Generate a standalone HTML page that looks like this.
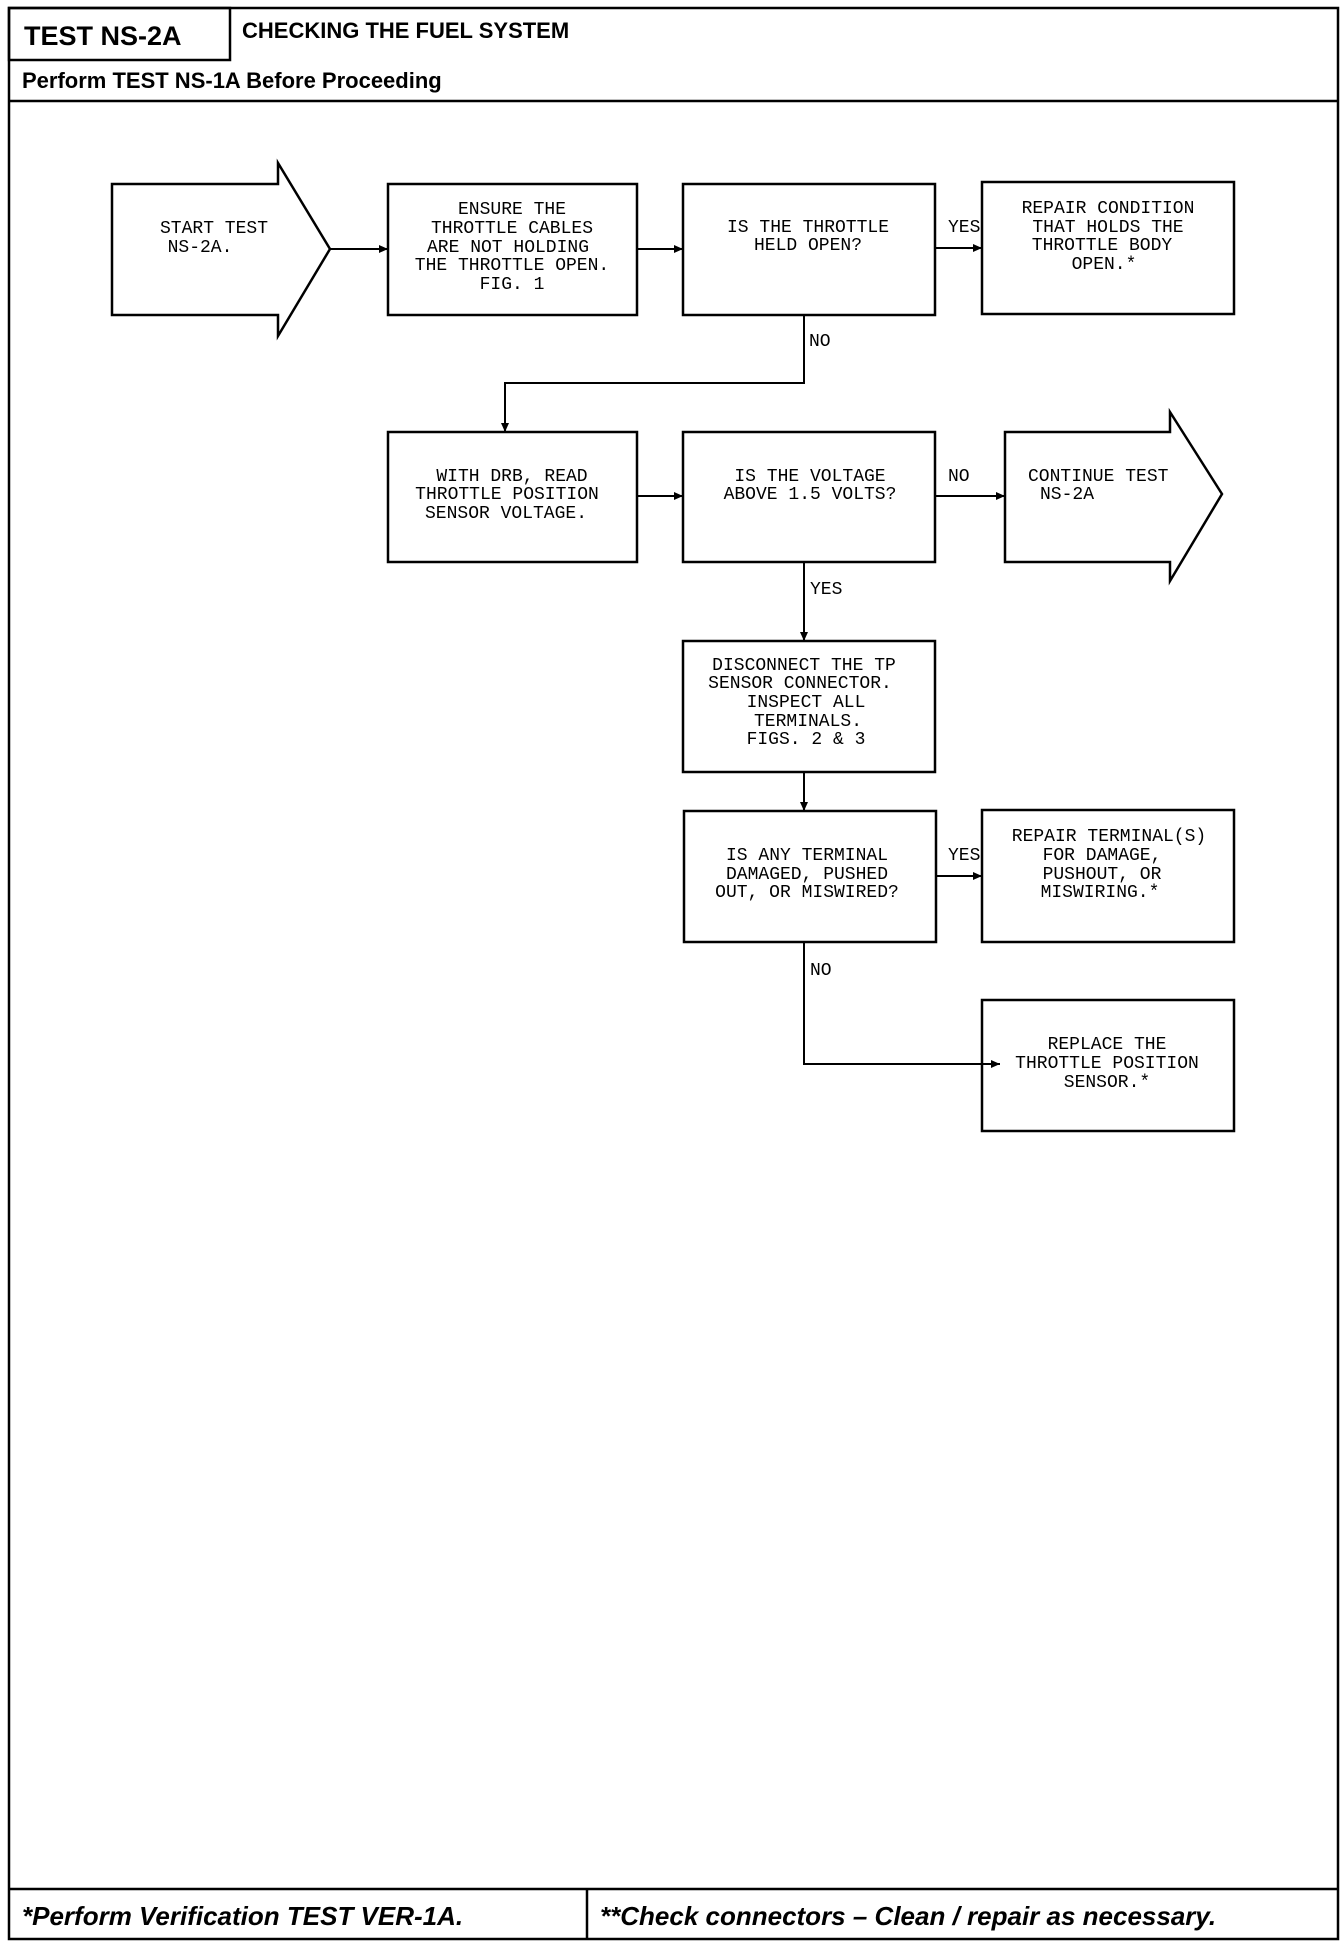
<!DOCTYPE html>
<html><head><meta charset="utf-8"><style>
html,body{margin:0;padding:0;background:#fff;}
svg{display:block;}
.t{font-family:"Liberation Mono",monospace;font-size:18px;fill:#000;text-anchor:middle;dominant-baseline:central;}
.l{font-family:"Liberation Mono",monospace;font-size:18px;fill:#000;dominant-baseline:central;}
.h{font-family:"Liberation Sans",sans-serif;font-weight:bold;fill:#000;}
</style></head><body>
<svg width="1344" height="1946" viewBox="0 0 1344 1946" xmlns="http://www.w3.org/2000/svg">
<defs><marker id="a" markerWidth="10" markerHeight="10" refX="9" refY="5" orient="auto" markerUnits="userSpaceOnUse"><path d="M0,1 L9,5 L0,9 Z" fill="#000"/></marker></defs>
<g fill="none" stroke="#000" stroke-width="2.5">
<rect x="9" y="8" width="1329" height="1931"/>
<rect x="9" y="8" width="221" height="52"/>
<line x1="9" y1="101" x2="1338" y2="101"/>
<line x1="9" y1="1889" x2="1338" y2="1889"/>
<line x1="587" y1="1889" x2="587" y2="1939"/>
</g>
<text class="h" x="24" y="45" font-size="27">TEST NS-2A</text>
<text class="h" x="242" y="38" font-size="22">CHECKING THE FUEL SYSTEM</text>
<text class="h" x="22" y="88" font-size="22">Perform TEST NS-1A Before Proceeding</text>
<text class="h" x="22" y="1925" font-size="26" font-style="italic">*Perform Verification TEST VER-1A.</text>
<text class="h" x="600" y="1925" font-size="26" font-style="italic">**Check connectors – Clean / repair as necessary.</text>
<g fill="none" stroke="#000" stroke-width="2.5">
<path d="M112,184 H278 V163 L330,249 L278,336 V315 H112 Z"/>
<rect x="388" y="184" width="249" height="131"/>
<rect x="683" y="184" width="252" height="131"/>
<rect x="982" y="182" width="252" height="132"/>
<rect x="388" y="432" width="249" height="130"/>
<rect x="683" y="432" width="252" height="130"/>
<path d="M1005,432 H1170 V412 L1222,494 L1170,581 V562 H1005 Z"/>
<rect x="683" y="641" width="252" height="131"/>
<rect x="684" y="811" width="252" height="131"/>
<rect x="982" y="810" width="252" height="132"/>
<rect x="982" y="1000" width="252" height="131"/>
</g>
<g fill="none" stroke="#000" stroke-width="2" marker-end="url(#a)">
<line x1="330" y1="249" x2="388" y2="249"/>
<line x1="637" y1="249" x2="683" y2="249"/>
<line x1="935" y1="248" x2="982" y2="248"/>
<path d="M804,315 V383 H505 V432"/>
<line x1="637" y1="496" x2="683" y2="496"/>
<line x1="935" y1="496" x2="1005" y2="496"/>
<line x1="804" y1="562" x2="804" y2="641"/>
<line x1="804" y1="772" x2="804" y2="811"/>
<line x1="936" y1="876" x2="982" y2="876"/>
<path d="M804,942 V1064 H1000"/>
</g>
<text class="l" x="809" y="342">NO</text>
<text class="l" x="948" y="228">YES</text>
<text class="l" x="948" y="477">NO</text>
<text class="l" x="810" y="590">YES</text>
<text class="l" x="948" y="856">YES</text>
<text class="l" x="810" y="971">NO</text>
<text class="t" x="214" y="229">START TEST</text><text class="t" x="200" y="248">NS-2A.</text>
<text class="t" x="512" y="210">ENSURE THE</text><text class="t" x="512" y="229">THROTTLE CABLES</text><text class="t" x="508" y="248">ARE NOT HOLDING</text><text class="t" x="512" y="266">THE THROTTLE OPEN.</text><text class="t" x="512" y="285">FIG. 1</text>
<text class="t" x="808" y="228">IS THE THROTTLE</text><text class="t" x="808" y="246">HELD OPEN?</text>
<text class="t" x="1108" y="209">REPAIR CONDITION</text><text class="t" x="1108" y="228">THAT HOLDS THE</text><text class="t" x="1102" y="246">THROTTLE BODY</text><text class="t" x="1104" y="265">OPEN.*</text>
<text class="t" x="512" y="477">WITH DRB, READ</text><text class="t" x="507" y="495">THROTTLE POSITION</text><text class="t" x="506" y="514">SENSOR VOLTAGE.</text>
<text class="t" x="810" y="477">IS THE VOLTAGE</text><text class="t" x="810" y="495">ABOVE 1.5 VOLTS?</text>
<text class="l" x="1028" y="477">CONTINUE TEST</text><text class="l" x="1040" y="495">NS-2A</text>
<text class="t" x="804" y="666">DISCONNECT THE TP</text><text class="t" x="800" y="684">SENSOR CONNECTOR.</text><text class="t" x="806" y="703">INSPECT ALL</text><text class="t" x="808" y="722">TERMINALS.</text><text class="t" x="806" y="740">FIGS. 2 &amp; 3</text>
<text class="t" x="807" y="856">IS ANY TERMINAL</text><text class="t" x="807" y="875">DAMAGED, PUSHED</text><text class="t" x="807" y="893">OUT, OR MISWIRED?</text>
<text class="t" x="1109" y="837">REPAIR TERMINAL(S)</text><text class="t" x="1102" y="856">FOR DAMAGE,</text><text class="t" x="1102" y="875">PUSHOUT, OR</text><text class="t" x="1100" y="893">MISWIRING.*</text>
<text class="t" x="1107" y="1045">REPLACE THE</text><text class="t" x="1107" y="1064">THROTTLE POSITION</text><text class="t" x="1107" y="1083">SENSOR.*</text>
</svg>
</body></html>
